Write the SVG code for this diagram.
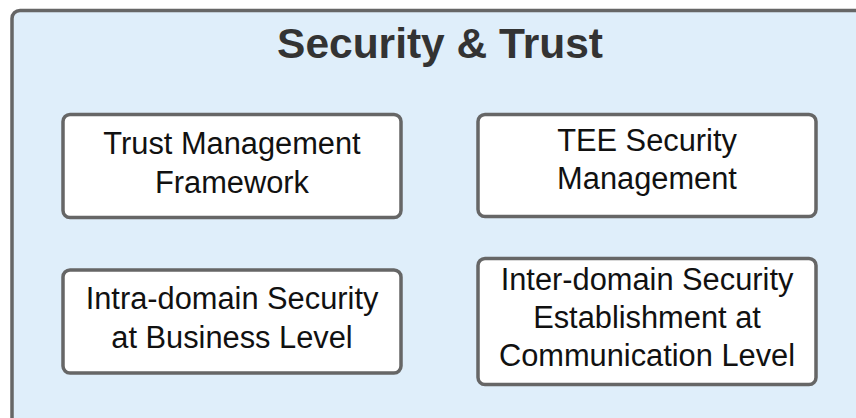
<svg xmlns="http://www.w3.org/2000/svg" width="856" height="418" viewBox="0 0 856 418">
<style>
.bg{fill:#ffffff}
.container{fill:#dfeefa;stroke:#666666;stroke-width:3.5}
.title{font-family:"Liberation Sans",Arial,sans-serif;font-weight:bold;font-size:42.5px;fill:#333333;text-anchor:middle}
.node rect{fill:#ffffff;stroke:#666666;stroke-width:3.5}
.node text{font-family:"Liberation Sans",Arial,sans-serif;font-size:30.8px;fill:#111111;text-anchor:middle}
</style>
<rect class="bg" x="0" y="0" width="856" height="418"/>
<g id="container">
<rect class="container" x="12" y="10.5" width="870" height="430" rx="8"/>
<text class="title" x="440" y="58">Security &amp; Trust</text>
</g>
<g id="connectors"></g>
<g id="node-trust" class="node">
<rect x="63" y="114.5" width="338" height="103" rx="7"/>
<text x="232" y="153.5">Trust Management</text>
<text x="232" y="192.5">Framework</text>
</g>
<g id="node-tee" class="node">
<rect x="478" y="114.5" width="338" height="102" rx="7"/>
<text x="647" y="150.5">TEE Security</text>
<text x="647" y="189">Management</text>
</g>
<g id="node-intra" class="node">
<rect x="63" y="270" width="338" height="103" rx="7"/>
<text x="232" y="309">Intra-domain Security</text>
<text x="232" y="347.5">at Business Level</text>
</g>
<g id="node-inter" class="node">
<rect x="478" y="258.5" width="338" height="126" rx="7"/>
<text x="647" y="289.5">Inter-domain Security</text>
<text x="647" y="328">Establishment at</text>
<text x="647" y="366">Communication Level</text>
</g>
</svg>
